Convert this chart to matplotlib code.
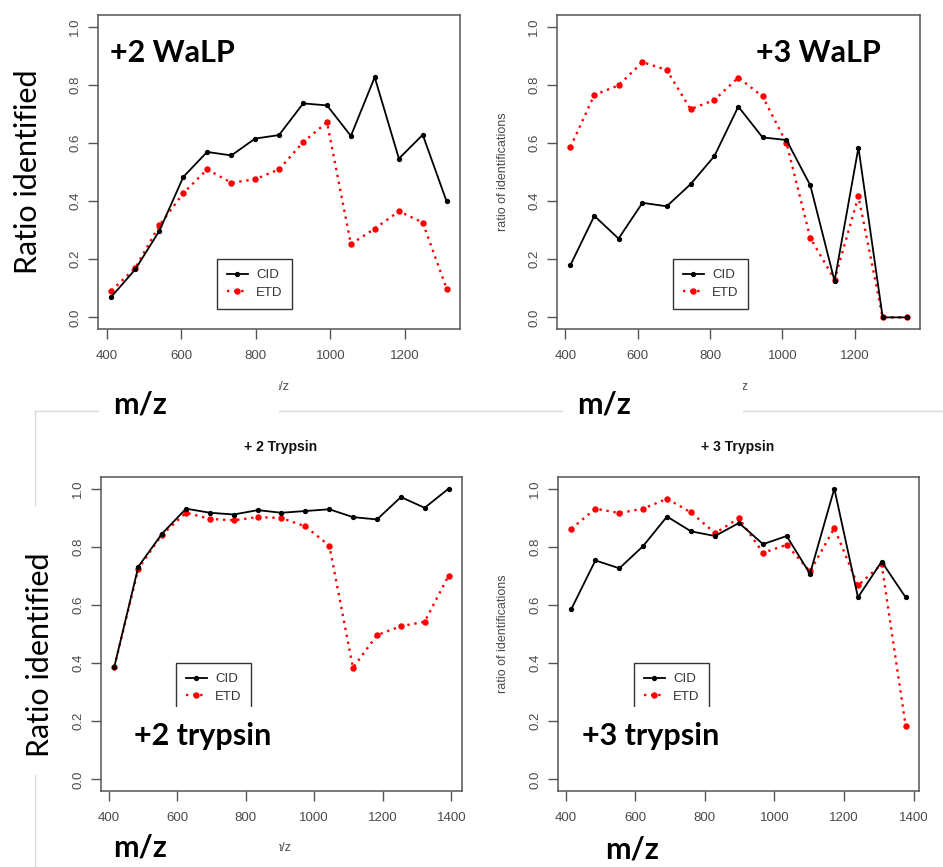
import matplotlib
matplotlib.use('Agg')
import matplotlib.pyplot as plt
from matplotlib.patches import Rectangle
from matplotlib.lines import Line2D

plt.rcParams['font.family'] = ['Liberation Sans', 'DejaVu Sans']

# ---------------- data ----------------
walp2_mz = [412, 476, 541, 605, 669, 734, 798, 862, 927, 991, 1055, 1119, 1184, 1248, 1312]
walp2_cid = [0.071, 0.165, 0.298, 0.483, 0.569, 0.557, 0.615, 0.627, 0.736, 0.729, 0.624, 0.826, 0.546, 0.628, 0.399]
walp2_etd = [0.092, 0.170, 0.317, 0.427, 0.509, 0.463, 0.475, 0.509, 0.603, 0.671, 0.252, 0.305, 0.365, 0.326, 0.099]

walp3_mz = [414, 480, 547, 613, 680, 746, 812, 878, 945, 1011, 1077, 1144, 1210, 1277, 1343]
walp3_cid = [0.180, 0.349, 0.271, 0.394, 0.382, 0.458, 0.555, 0.725, 0.619, 0.610, 0.454, 0.125, 0.584, 0.0, 0.0]
walp3_etd = [0.586, 0.765, 0.798, 0.878, 0.851, 0.716, 0.748, 0.825, 0.760, 0.600, 0.273, 0.130, 0.416, 0.0, 0.0]

tryp2_mz = [417, 487, 556, 626, 696, 765, 835, 904, 974, 1044, 1113, 1183, 1253, 1322, 1392]
tryp2_cid = [0.388, 0.732, 0.845, 0.931, 0.917, 0.911, 0.926, 0.917, 0.923, 0.929, 0.902, 0.894, 0.971, 0.934, 1.0]
tryp2_etd = [0.388, 0.725, 0.842, 0.917, 0.896, 0.891, 0.902, 0.899, 0.870, 0.804, 0.384, 0.496, 0.527, 0.542, 0.701]

tryp3_mz = [416, 485, 554, 622, 691, 760, 829, 898, 967, 1035, 1102, 1172, 1240, 1308, 1377]
tryp3_cid = [0.586, 0.753, 0.726, 0.802, 0.904, 0.853, 0.837, 0.882, 0.809, 0.837, 0.707, 1.0, 0.626, 0.749, 0.626]
tryp3_etd = [0.862, 0.931, 0.916, 0.931, 0.965, 0.918, 0.847, 0.898, 0.779, 0.807, 0.715, 0.864, 0.667, 0.740, 0.185]

series_labels = ['CID', 'ETD']
yticks = [0.0, 0.2, 0.4, 0.6, 0.8, 1.0]
ytick_labels = ['0.0', '0.2', '0.4', '0.6', '0.8', '1.0']
xticks_walp = [400, 600, 800, 1000, 1200]
xticks_tryp = [400, 600, 800, 1000, 1200, 1400]

# ---------------- layout helpers ----------------
W, H = 943, 867
fig = plt.figure(figsize=(W / 100, H / 100), dpi=100)
fig.patch.set_facecolor('white')

def fx(x):
    return x / W

def fy(y):
    return 1 - y / H

panels = [
    dict(box=(98, 15, 460, 329), mz=walp2_mz, cid=walp2_cid, etd=walp2_etd, xt=xticks_walp,
         leg=(217, 259), title=None, ylab=None, xlab=(279, 387)),
    dict(box=(557, 15, 920, 329), mz=walp3_mz, cid=walp3_cid, etd=walp3_etd, xt=xticks_walp,
         leg=(673, 259), title=None, ylab=(503, 172), xlab=(738, 387)),
    dict(box=(101, 477, 462, 791), mz=tryp2_mz, cid=tryp2_cid, etd=tryp2_etd, xt=xticks_tryp,
         leg=(176, 663), title=('+ 2 Trypsin', 281, 447), ylab=None, xlab=(281, 848)),
    dict(box=(558, 477, 919, 791), mz=tryp3_mz, cid=tryp3_cid, etd=tryp3_etd, xt=xticks_tryp,
         leg=(634, 663), title=('+ 3 Trypsin', 738, 447), ylab=(503, 634), xlab=(738, 848)),
]

gray_tick = '#4a4a4a'
frame_col = '#555555'

for p in panels:
    l, t, r, b = p['box']
    ax = fig.add_axes([fx(l), fy(b), (r - l) / W, (b - t) / H])
    ax.plot(p['mz'], p['cid'], color='black', lw=1.3, marker='o', ms=2.8,
            label=series_labels[0], zorder=3)
    ax.plot(p['mz'], p['etd'], color='red', lw=1.7, ls=(0, (1, 2)), marker='o', ms=3.6,
            label=series_labels[1], zorder=2)
    span = max(p['mz']) - min(p['mz'])
    ax.set_xlim(min(p['mz']) - 0.04 * span, max(p['mz']) + 0.04 * span)
    ax.set_ylim(-0.04, 1.04)
    ax.set_xticks(p['xt'])
    ax.set_xticklabels([str(v) for v in p['xt']])
    ax.set_yticks(yticks)
    ax.set_yticklabels(ytick_labels, rotation=90, va='center')
    ax.tick_params(direction='out', length=7, width=1, colors=frame_col,
                   labelsize=9.5, labelcolor=gray_tick)
    ax.tick_params(axis='x', pad=8)
    ax.tick_params(axis='y', pad=5)
    for s in ax.spines.values():
        s.set_color(frame_col)
        s.set_linewidth(1.1)
    lx, ly = p['leg']
    leg = ax.legend(loc='upper left', bbox_to_anchor=(fx(lx), fy(ly)),
                    bbox_transform=fig.transFigure, frameon=True, fancybox=False,
                    edgecolor='#333333', framealpha=1, fontsize=9.5,
                    handlelength=1.6, handletextpad=0.6, labelspacing=0.4,
                    borderpad=0.75, borderaxespad=0, numpoints=1)
    leg.get_frame().set_linewidth(1.0)
    for tx in leg.get_texts():
        tx.set_color('#333333')
    if p['title']:
        s, x, y = p['title']
        fig.text(fx(x), fy(y), s, ha='center', va='center', fontsize=10,
                 fontweight='bold', color='#111111')
    if p['ylab']:
        x, y = p['ylab']
        fig.text(fx(x), fy(y), 'ratio of identifications', ha='center', va='center',
                 rotation=90, fontsize=9, color=gray_tick)
    x, y = p['xlab']
    fig.text(fx(x), fy(y), 'm/z', ha='center', va='center', fontsize=9, color=gray_tick,
             zorder=1)

# ---------------- slide decorations ----------------
line_col = '#d9d9d9'
fig.add_artist(Line2D([fx(35), fx(943)], [fy(411), fy(411)], color=line_col, lw=1.0, zorder=1))
fig.add_artist(Line2D([fx(35), fx(35)], [fy(411), fy(867)], color=line_col, lw=1.0, zorder=1))

def white_box(x0, y0, x1, y1):
    fig.add_artist(Rectangle((fx(x0), fy(y1)), (x1 - x0) / W, (y1 - y0) / H,
                             transform=fig.transFigure, facecolor='white',
                             edgecolor='none', zorder=2))

white_box(99, 374, 279, 425)
white_box(563, 374, 743, 425)
white_box(99, 822, 279, 867)
white_box(563, 822, 760, 867)
white_box(20, 506, 56, 775)
white_box(120, 707, 290, 770)
white_box(580, 707, 725, 770)

big = dict(family=['Lato', 'DejaVu Sans'], color='black', zorder=4)
fig.text(fx(172), fy(62), '+2 WaLP', ha='center', va='baseline', fontsize=22, fontweight='bold', **big)
fig.text(fx(818), fy(62), '+3 WaLP', ha='center', va='baseline', fontsize=22, fontweight='bold', **big)
fig.text(fx(203), fy(745), '+2 trypsin', ha='center', va='baseline', fontsize=22, fontweight='bold', **big)
fig.text(fx(651), fy(745), '+3 trypsin', ha='center', va='baseline', fontsize=22, fontweight='bold', **big)
fig.text(fx(140), fy(413), 'm/z', ha='center', va='baseline', fontsize=22, fontweight='bold', **big)
fig.text(fx(604), fy(413), 'm/z', ha='center', va='baseline', fontsize=22, fontweight='bold', **big)
fig.text(fx(140), fy(856), 'm/z', ha='center', va='baseline', fontsize=22, fontweight='bold', **big)
fig.text(fx(632), fy(858), 'm/z', ha='center', va='baseline', fontsize=22, fontweight='bold', **big)
fig.text(fx(28), fy(172), 'Ratio identified', ha='center', va='center', rotation=90, fontsize=22, **big)
fig.text(fx(40), fy(655), 'Ratio identified', ha='center', va='center', rotation=90, fontsize=22, **big)

fig.savefig('out.png', dpi=100, facecolor='white')
